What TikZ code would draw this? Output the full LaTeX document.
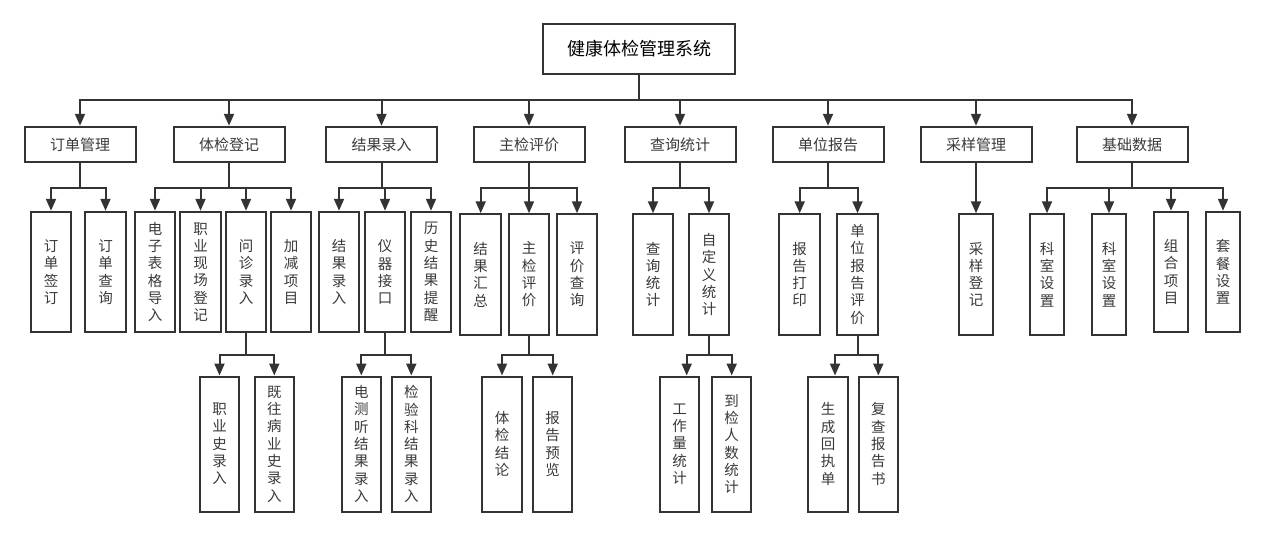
\documentclass[tikz,border=0pt]{standalone}
\usepackage{fontspec}
\setmainfont{Noto Sans CJK SC}
\usetikzlibrary{arrows.meta,calc}
\definecolor{lc}{HTML}{333333}
\definecolor{tc}{HTML}{3A3A3A}
\begin{document}
\begin{tikzpicture}[x=1pt,y=-1pt,
  box/.style={draw=lc, line width=2pt, fill=white, inner sep=0pt, text=tc},
  rootbox/.style={box, minimum width=192pt, minimum height=50pt, text=black, font=\fontsize{18}{20}\selectfont},
  lonebox/.style={box, minimum width=111pt, minimum height=35.5pt, font=\fontsize{15}{18}\selectfont},
  vbox/.style={box, minimum width=40.5pt, minimum height=120.5pt, align=center, font=\fontsize{14.5}{17.3}\selectfont},
  nbox/.style={vbox, minimum width=33.5pt},
  lbox/.style={vbox, minimum width=39.5pt, minimum height=135pt},
  wire/.style={draw=lc, line width=2pt},
  arr/.style={wire, -{Triangle[length=12pt,width=10pt]}}
]
\useasboundingbox (0,0) rectangle (1265,536);
\coordinate (y1) at (0,100);
\coordinate (y2) at (0,188);
\coordinate (y3) at (0,355);

\node[rootbox] (root) at (639,49) {健康体检管理系统};

\node[lonebox] (la) at (80,144.5) {订单管理};
\node[lonebox] (lb) at (229,144.5) {体检登记};
\node[lonebox] (lc) at (381.5,144.5) {结果录入};
\node[lonebox] (ld) at (529,144.5) {主检评价};
\node[lonebox] (le) at (680,144.5) {查询统计};
\node[lonebox] (lf) at (828,144.5) {单位报告};
\node[lonebox] (lg) at (976,144.5) {采样管理};
\node[lonebox] (lh) at (1132,144.5) {基础数据};

\node[vbox] (a1) at (51,272) {订\\单\\签\\订};
\node[vbox] (a2) at (105.5,272) {订\\单\\查\\询};
\node[vbox] (b1) at (155,272) {电\\子\\表\\格\\导\\入};
\node[vbox] (b2) at (200.5,272) {职\\业\\现\\场\\登\\记};
\node[vbox] (b3) at (246,272) {问\\诊\\录\\入};
\node[vbox] (b4) at (291,272) {加\\减\\项\\目};
\node[vbox] (c1) at (339,272) {结\\果\\录\\入};
\node[vbox] (c2) at (385,272) {仪\\器\\接\\口};
\node[vbox] (c3) at (431,272) {历\\史\\结\\果\\提\\醒};
\node[vbox] (d1) at (480.7,274.5) {结\\果\\汇\\总};
\node[vbox] (d2) at (529,274.5) {主\\检\\评\\价};
\node[vbox] (d3) at (577,274.5) {评\\价\\查\\询};
\node[vbox] (e1) at (653,274.5) {查\\询\\统\\计};
\node[vbox] (e2) at (709,274.5) {自\\定\\义\\统\\计};
\node[vbox] (f1) at (799.7,274.5) {报\\告\\打\\印};
\node[vbox] (f2) at (857.5,274.5) {单\\位\\报\\告\\评\\价};
\node[nbox] (g1) at (976,274.5) {采\\样\\登\\记};
\node[nbox] (h1) at (1047,274.5) {科\\室\\设\\置};
\node[nbox] (h2) at (1109,274.5) {科\\室\\设\\置};
\node[nbox] (h3) at (1171,272) {组\\合\\项\\目};
\node[nbox] (h4) at (1223,272) {套\\餐\\设\\置};

\node[lbox] (b31) at (219.5,444) {职\\业\\史\\录\\入};
\node[lbox] (b32) at (274.3,444) {既\\往\\病\\业\\史\\录\\入};
\node[lbox] (c21) at (361.3,444) {电\\测\\听\\结\\果\\录\\入};
\node[lbox] (c22) at (411.3,444) {检\\验\\科\\结\\果\\录\\入};
\node[lbox] (d21) at (502,444) {体\\检\\结\\论};
\node[lbox] (d22) at (552.7,444) {报\\告\\预\\览};
\node[lbox] (e21) at (679.7,444) {工\\作\\量\\统\\计};
\node[lbox] (e22) at (731.7,444) {到\\检\\人\\数\\统\\计};
\node[lbox] (f21) at (828,444) {生\\成\\回\\执\\单};
\node[lbox] (f22) at (878.3,444) {复\\查\\报\\告\\书};

% level 1
\foreach \c in {la,lb,lc,ld,le,lf,lg,lh}
  \draw[arr] (root.south) -- (root.south |- y1) -| (\c.north);

% level 2
\foreach \p/\cl in {la/{a1,a2}, lb/{b1,b2,b3,b4}, lc/{c1,c2,c3}, ld/{d1,d2,d3}, le/{e1,e2}, lf/{f1,f2}, lh/{h1,h2,h3,h4}}
  \foreach \c in \cl
    \draw[arr] (\p.south) -- (\p.south |- y2) -| (\c.north);
\draw[arr] (lg.south) -- (g1.north);

% level 3
\foreach \p/\cl in {b3/{b31,b32}, c2/{c21,c22}, d2/{d21,d22}, f2/{f22}, e2/{e22}}
  \foreach \c in \cl
    \draw[arr] (\p.south) -- (\p.south |- y3) -| (\c.north);
\draw[arr] (e2.south) -- (e2.south |- y3) -| ($(e21.north)+(7,0)$);
\draw[arr] (f2.south) -- (f2.south |- y3) -| ($(f21.north)+(7,0)$);
\end{tikzpicture}
\end{document}
